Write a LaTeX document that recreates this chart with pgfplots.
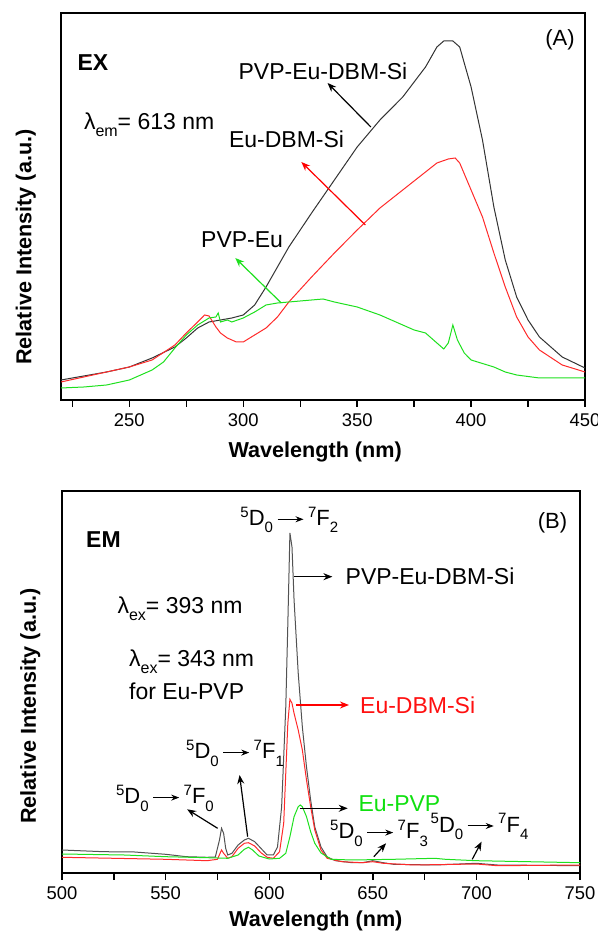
\documentclass[border=0pt]{standalone}
\usepackage{fontspec}
\setmainfont{Liberation Sans}
\usepackage{pgfplots}
\pgfplotsset{compat=1.18}
\usetikzlibrary{arrows.meta}
\definecolor{cblack}{HTML}{333333}
\definecolor{cred}{HTML}{FF2A2A}
\definecolor{cgreen}{HTML}{1EE01E}
\definecolor{tred}{HTML}{FF1010}
\definecolor{tgreen}{HTML}{10E010}

\newcommand{\ann}{\fontsize{11.5}{13}\selectfont}
\newcommand{\sml}{\fontsize{7.5}{8}\selectfont}
\newcommand{\sub}[1]{\raisebox{-3.5pt}{\fontsize{8}{9}\selectfont #1}}
\newcommand{\tr}[1]{\raisebox{4.2pt}{\sml 5}D\raisebox{-3.6pt}{\sml 0}\kern2pt\tikz[baseline=-0.55ex]\draw[-{Stealth[length=4pt,width=3pt]},line width=0.5pt](0,0)--(13pt,0);\kern2pt\raisebox{4.2pt}{\sml 7}F\raisebox{-3.6pt}{\sml #1}}

\pgfplotsset{panel/.style={
  scale only axis, anchor=south west,
  axis line style={line width=0.9pt},
  tick align=outside, xtick pos=bottom, ytick=\empty,
  major tick length=3.5pt, minor tick length=3.5pt,
  every tick/.style={line width=0.7pt, black},
  ticklabel style={font=\fontsize{9.2}{11}\selectfont},
  /pgf/number format/assume math mode=true,
  label style={font=\bfseries\fontsize{10.8}{13}\selectfont},
  every axis plot/.append style={line width=0.5pt, mark=none},
}}
\tikzset{arr/.style={-{Stealth[length=4.5pt,width=3.5pt]}, line width=0.6pt}}

\begin{document}
\begin{tikzpicture}
\path[use as bounding box] (0,0) rectangle (299pt,468pt);

% ---- (A) excitation
\begin{axis}[panel, at={(30.5pt,268pt)}, width=262pt, height=193.5pt,
  xmin=220, xmax=450, ymin=0, ymax=387,
  xtick={250,300,350,400,450},
  minor xtick={225,275,325,375,425},
  xlabel={Wavelength (nm)}, ylabel={Relative Intensity (a.u.)},
  xlabel style={at={(axis description cs:0.485,0)}, anchor=center, yshift=-26pt},
  ylabel style={at={(axis description cs:-0.067,0.395)}, anchor=center},
]
\addplot[cblack] coordinates {
(220,20) (230,24) (240,28) (250,33) (260,42) (270,53) (275,62) (280,72) (285,78)
(290,80) (295,82) (300,85) (305,95) (310,113) (315,133) (320,153) (330,187)
(340,220) (350,253) (360,280) (370,303) (380,333) (385,353) (388,359) (392,359)
(395,353) (400,313) (405,260) (410,193) (415,140) (420,103) (425,80) (430,63)
(440,43) (450,32)};
\addplot[cred] coordinates {
(220,18) (230,23) (240,28) (250,33) (260,40) (270,55) (275,67) (280,78) (283,85)
(285,84) (288,73) (290,67) (293,62) (297,58) (300,58) (305,65) (310,72) (315,83)
(320,98) (330,123) (340,147) (350,170) (360,192) (370,210) (380,228) (385,237)
(390,241) (393,242) (395,237) (400,210) (405,183) (410,147) (415,113) (420,83)
(425,63) (430,50) (440,35) (450,28)};
\addplot[cgreen] coordinates {
(220,12) (230,13) (240,15) (250,20) (260,30) (265,38) (270,52) (275,65) (280,75)
(285,82) (288,83) (289,87) (290,78) (293,80) (295,78) (300,82) (305,88) (310,95)
(315,97) (320,98) (330,100) (335,101) (340,98) (350,93) (360,85) (370,75) (375,70)
(380,67) (385,57) (388,51) (390,57) (392,75) (394,60) (397,47) (400,40) (410,33)
(415,28) (420,25) (430,22) (440,22) (450,22)};

\node[font=\fontsize{11}{13}\selectfont] at (axis cs:439,360) {(A)};
\node[font=\ann\bfseries] at (axis cs:234,337) {EX};
\node[font=\ann] at (axis cs:335,329) {PVP-Eu-DBM-Si};
\draw[arr, black] (axis cs:356,273) -- (axis cs:337,317);
\node[font=\ann, anchor=west] at (axis cs:227,275) {λ\sub{em}= 613 nm};
\node[font=\ann] at (axis cs:319,261) {Eu-DBM-Si};
\draw[arr, red] (axis cs:353.6,175) -- (axis cs:325.5,238);
\node[font=\ann] at (axis cs:299.5,160) {PVP-Eu};
\draw[arr, cgreen] (axis cs:316.7,97) -- (axis cs:296.5,142);
\end{axis}

% ---- (B) emission
\begin{axis}[panel, at={(31pt,31.5pt)}, width=259pt, height=191pt,
  xmin=500, xmax=750, ymin=0, ymax=382,
  xtick={500,550,600,650,700,750},
  minor xtick={525,575,625,675,725},
  xlabel={Wavelength (nm)}, ylabel={Relative Intensity (a.u.)},
  xlabel style={at={(axis description cs:0.49,0)}, anchor=center, yshift=-24pt},
  ylabel style={at={(axis description cs:-0.061,0.437)}, anchor=center},
]
\addplot[cblack!85] coordinates {
(500,23) (520,21.3) (535,21) (550,18.7) (560,16.3) (570,15.7) (574,16) (576,33)
(577,44.7) (578,39.7) (579,24.7) (580,18) (582,19.7) (585,28) (588,33) (590,34.7)
(593,31.3) (596,24.7) (599,18) (602,18) (604,26) (606,66) (608,166) (609,250)
(610,340) (611,326) (612,273) (614,200) (616,146) (618,106) (620,73) (622,46)
(625,26) (628,16) (632,12.3) (640,10.3) (645,10.3) (650,12.3) (655,10.3) (660,8.7)
(680,8) (700,9.7) (710,8) (750,7.3)};
\addplot[cred] coordinates {
(500,15.7) (550,13.7) (570,12.3) (575,13.7) (577,23) (578,19.7) (580,14.7) (582,16.3)
(585,24.7) (588,29.7) (590,30.3) (593,27) (596,20.3) (599,15.7) (602,14.7) (605,21.3)
(607,49.7) (608,100) (609,150) (610,173.7) (611,169.7) (612,159.7) (614,143) (616,123)
(618,93) (620,66.3) (622,43) (625,23) (628,14.7) (635,11.3) (645,10.3) (650,11.3)
(655,9.7) (670,8) (700,9) (710,7.3) (750,8)};
\addplot[cgreen] coordinates {
(500,19) (530,18) (550,16.3) (570,15.3) (580,14.7) (585,18) (588,23.7) (590,25.7)
(592,23) (595,17) (600,14) (605,14.7) (608,19.7) (610,36.3) (612,56.3) (614,66.3)
(615,68) (616,66.3) (618,56.3) (620,41.3) (622,29.7) (625,20) (630,13.7) (640,13)
(660,13.7) (680,14.7) (685,13.7) (700,12.3) (750,10.3)};

\node[font=\fontsize{11}{13}\selectfont] at (axis cs:736.7,349.7) {(B)};
\node[font=\ann\bfseries] at (axis cs:520,333.7) {EM};
\node[font=\fontsize{11}{13}\selectfont] at (axis cs:609.7,353) {\tr{2}};
\draw[arr, black] (axis cs:612,296.3) -- (axis cs:630.5,296.3);
\node[font=\ann, anchor=west] at (axis cs:633.5,296.3) {PVP-Eu-DBM-Si};
\node[font=\ann, anchor=west] at (axis cs:523.4,264.7) {λ\sub{ex}= 393 nm};
\node[font=\ann, anchor=west] at (axis cs:529,211.3) {λ\sub{ex}= 343 nm};
\node[font=\ann, anchor=west] at (axis cs:529,181.3) {for Eu-PVP};
\draw[arr, red] (axis cs:613,168) -- (axis cs:638.5,168);
\node[font=\ann, text=tred, anchor=west] at (axis cs:640.5,168) {Eu-DBM-Si};
\node[font=\fontsize{11}{13}\selectfont] at (axis cs:583.5,119.7) {\tr{1}};
\draw[arr, black] (axis cs:589.6,36.3) -- (axis cs:585.7,98);
\node[font=\fontsize{11}{13}\selectfont] at (axis cs:549.7,74.7) {\tr{0}};
\draw[arr, black] (axis cs:575.1,44.7) -- (axis cs:560.4,63.7);
\draw[arr, black] (axis cs:614.8,64.7) -- (axis cs:637.9,64.7);
\node[font=\ann, text=tgreen, anchor=west] at (axis cs:639.7,69.7) {Eu-PVP};
\node[font=\fontsize{11}{13}\selectfont] at (axis cs:653,39.7) {\tr{3}};
\draw[arr, black] (axis cs:650.5,16.3) -- (axis cs:656.4,29.7);
\node[font=\fontsize{11}{13}\selectfont] at (axis cs:701.5,46.3) {\tr{4}};
\draw[arr, black] (axis cs:698,13.7) -- (axis cs:702.5,31.3);
\end{axis}
\end{tikzpicture}
\end{document}
